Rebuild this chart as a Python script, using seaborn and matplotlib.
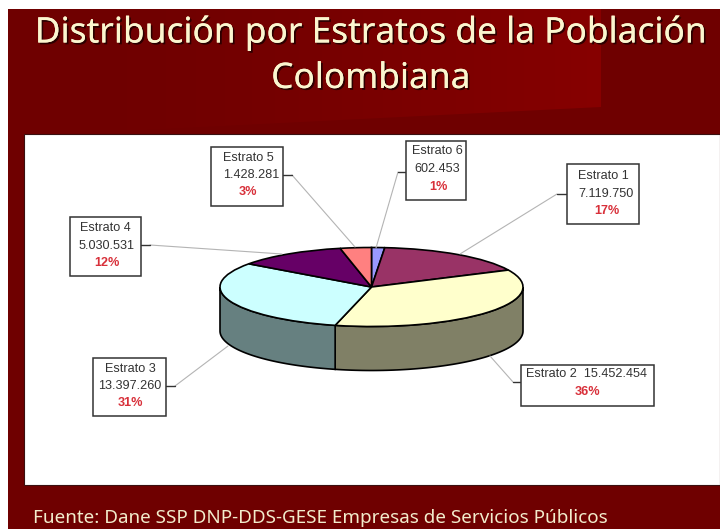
import numpy as np
import matplotlib
matplotlib.use("Agg")
import matplotlib.pyplot as plt
import matplotlib.patheffects as pe
from matplotlib.patches import Rectangle, Polygon
import seaborn as sns

# Population by stratum, in the clockwise order of the pie starting at twelve o'clock
estratos = ["Estrato 6", "Estrato 1", "Estrato 2", "Estrato 3", "Estrato 4", "Estrato 5"]
poblacion = [602453, 7119750, 15452454, 13397260, 5030531, 1428281]

titulo_1 = "Distribución por Estratos de la Población"
titulo_2 = "Colombiana"
fuente = "Fuente: Dane SSP DNP-DDS-GESE Empresas de Servicios Públicos"

colores_tapa = ["#9999ff", "#993366", "#ffffcc", "#ccffff", "#660066", "#ff8080"]
colores_pared = ["#4d4d80", "#4d1a33", "#808066", "#668080", "#330033", "#804040"]

# Callout layout in pixels: box (x0, y0, x1, y1), text centres, leader line points
callouts = {
    "Estrato 1": dict(box=(567, 164, 639, 224), xs=(603, 606, 607), ys=(175, 193, 210),
                      stub=[(567, 194), (557, 194)], tip=(460, 254)),
    "Estrato 2": dict(box=(521, 365, 654, 406), xs=(587, 587), ys=(373, 391),
                      stub=[(521, 382), (513, 382)], tip=(490, 356)),
    "Estrato 3": dict(box=(93, 358, 166, 416), xs=(130, 130, 130), ys=(368, 385, 402),
                      stub=[(166, 386), (175, 386)], tip=(228, 346)),
    "Estrato 4": dict(box=(70, 217, 141, 276), xs=(105, 107, 107), ys=(227, 245, 262),
                      stub=[(141, 245), (150, 245)], tip=(282, 254)),
    "Estrato 5": dict(box=(211, 147, 283, 206), xs=(248, 251, 248), ys=(157, 174, 191),
                      stub=[(283, 175), (292, 175)], tip=(355, 247)),
    "Estrato 6": dict(box=(406, 141, 466, 200), xs=(437, 437, 438), ys=(150, 168, 186),
                      stub=[(406, 172), (398, 172)], tip=(376, 248)),
}

W, H = 720, 529
sns.set_theme(style="white")
fig = plt.figure(figsize=(W / 100, H / 100), dpi=100, facecolor="white")

# Slide backdrop in pixel coordinates
bg = fig.add_axes([0, 0, 1, 1], zorder=0)
bg.set_xlim(0, W)
bg.set_ylim(H, 0)
bg.axis("off")
bg.add_patch(Rectangle((8, 9), W - 8, H - 9, facecolor="#6f0000", edgecolor="none"))
ramp = np.zeros((1, 256, 4))
ramp[..., 0] = 0.53
ramp[..., 3] = np.linspace(0, 1, 256) ** 1.5
banda = bg.imshow(ramp, extent=(60, 601, 134, 9), aspect="auto", zorder=1)
banda.set_clip_path(Polygon([(60, 9), (601, 9), (601, 107), (60, 134)],
                            transform=bg.transData))
bg.set_xlim(0, W)
bg.set_ylim(H, 0)
bg.add_patch(Rectangle((24, 134), W - 24, 351, facecolor="white",
                       edgecolor="#3a1010", linewidth=0.8, zorder=2))

sombra = [pe.withSimplePatchShadow(offset=(1.3, -1.3), shadow_rgbFace="#200000", alpha=0.85, rho=1),
          pe.Normal()]
bg.text(371, 33, titulo_1, ha="center", va="center", color="#fbf6cf", fontsize=25.4,
        family="Noto Sans", zorder=3, path_effects=sombra)
bg.text(371, 79, titulo_2, ha="center", va="center", color="#fbf6cf", fontsize=25.4,
        family="Noto Sans", zorder=3, path_effects=sombra)
bg.text(33, 518, fuente, ha="left", va="center", color="#f2eccc", fontsize=13.55,
        family="Noto Sans", zorder=3)

# Pie: unit radius in data space, flattened by the axes box
CX, CY, RX, RY, DEPTH = 371.5, 287, 151.5, 39.5, 44
ax = fig.add_axes([(CX - RX) / W, 1 - (CY + RY) / H, 2 * RX / W, 2 * RY / H], zorder=3)
paleta = sns.color_palette(colores_tapa)
total = sum(poblacion)

# Side walls of the wedges that reach the front half of the disc
fondo = 2 * DEPTH / (2 * RY)
inicio = 0.0
for valor, color in zip(poblacion, colores_pared):
    fin = inicio + 360 * valor / total
    a, b = max(inicio, 90), min(fin, 270)
    if b > a:
        t = np.radians(np.linspace(a, b, 80))
        x, y = np.sin(t), np.cos(t)
        ax.fill(np.r_[x, x[::-1]], np.r_[y, y[::-1] - fondo], facecolor=color,
                edgecolor="black", linewidth=1.2, clip_on=False, zorder=1)
    inicio = fin

ax.pie(poblacion, startangle=90, counterclock=False, colors=paleta, radius=1,
       wedgeprops=dict(edgecolor="black", linewidth=1.2, zorder=2, clip_on=False))
ax.set_aspect("auto")
ax.set_xlim(-1, 1)
ax.set_ylim(-1, 1)
ax.axis("off")

# Callout boxes and leader lines
over = fig.add_axes([0, 0, 1, 1], zorder=4)
over.set_xlim(0, W)
over.set_ylim(H, 0)
over.axis("off")
over.patch.set_alpha(0)
for nombre, valor in zip(estratos, poblacion):
    c = callouts[nombre]
    x0, y0, x1, y1 = c["box"]
    over.plot(*zip(c["stub"][1], c["tip"]), color="#b4b4b4", lw=0.8, zorder=1)
    over.plot(*zip(*c["stub"]), color="#333333", lw=1.0, zorder=1)
    over.add_patch(Rectangle((x0, y0), x1 - x0, y1 - y0, facecolor="white",
                             edgecolor="#333333", linewidth=1.1, zorder=2))
    cifra = f"{valor:,}".replace(",", ".")
    pct = f"{round(100 * valor / total)}%"
    caja = dict(family="Liberation Sans", fontsize=9.1, ha="center", va="center", zorder=3)
    filas = [c["ys"][i] + 1 for i in range(len(c["ys"]))]
    if len(c["xs"]) == 2:
        over.text(c["xs"][0], filas[0], f"{nombre}  {cifra}", color="#333333", **caja)
        over.text(c["xs"][1], filas[1], pct, color="#d8303a", fontweight="bold", **caja)
    else:
        over.text(c["xs"][0], filas[0], nombre, color="#333333", **caja)
        over.text(c["xs"][1], filas[1], cifra, color="#333333", **caja)
        over.text(c["xs"][2], filas[2], pct, color="#d8303a", fontweight="bold", **caja)

fig.savefig("out.png", dpi=100)
